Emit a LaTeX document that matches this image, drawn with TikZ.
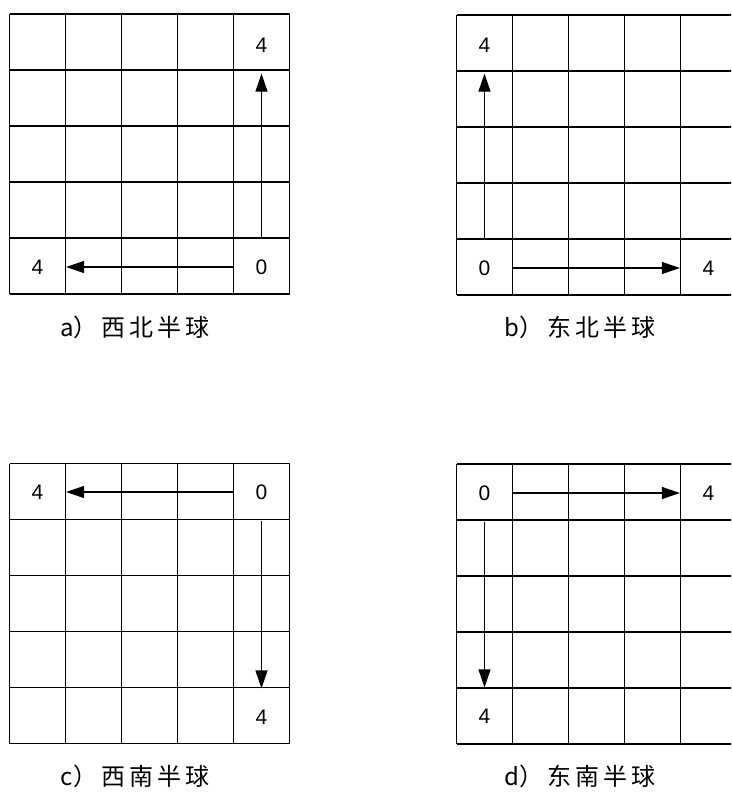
\documentclass[tikz,border=0pt]{standalone}
\usepackage{fontspec}
\setmainfont{Liberation Sans}
\newfontfamily\cjk{Noto Sans CJK SC}
\usetikzlibrary{arrows.meta,positioning}

\tikzset{
  cell/.style={minimum size=56pt,inner sep=0pt,font=\fontsize{21}{21}\selectfont},
  flow/.style={line width=1.2pt,-{Triangle[length=18pt,width=12pt]}},
  caption/.style={font=\cjk\fontsize{24}{24}\selectfont}
}
% 5x5 grid of 56pt cells, top left corner at (#1,#2)
\newcommand{\cellgrid}[2]{%
  \foreach \k in {0,...,5}{
    \draw (#1+56*\k,#2) -- (#1+56*\k,#2+280);
    \draw (#1,#2+56*\k) -- (#1+280,#2+56*\k);
  }
}
\newcommand{\cgap}{\hspace{4pt}}

\begin{document}
\begin{tikzpicture}[x=1pt,y=-1pt,line width=1.2pt]
  \useasboundingbox (0,0) rectangle (731,792);
  \clip (0,0) rectangle (731,792);
  \fill[white] (0,0) rectangle (731,792);

  % a) north-west
  \cellgrid{9.5}{14}
  \node[cell] (aN) at (261.5,45) {4};
  \node[cell] (aO) at (261.5,267) {0};
  \node[cell] (aW) at (37.5,267) {4};
  \draw[flow] (aO.north) -- (aN.south);
  \draw[flow] (aO.west) -- (aW.east);
  \node[caption] (capA) at (135,327) {a）\cgap 西\cgap 北\cgap 半\cgap 球};

  % b) north-east
  \cellgrid{456.5}{15}
  \node[cell] (bN) at (484.5,45) {4};
  \node[cell] (bO) at (484.5,268) {0};
  \node[cell] (bE) at (708.5,268) {4};
  \draw[flow] (bO.north) -- (bN.south);
  \draw[flow] (bO.east) -- (bE.west);
  \node[caption] (capB) at (580,327) {b）\cgap 东\cgap 北\cgap 半\cgap 球};

  % c) south-west
  \cellgrid{9.5}{463.5}
  \node[cell] (cO) at (261.5,492) {0};
  \node[cell] (cW) at (37.5,492) {4};
  \node[cell] (cS) at (261.5,717) {4};
  \draw[flow] (cO.west) -- (cW.east);
  \draw[flow] (cO.south) -- (cS.north);
  \node[caption] (capC) at (135,776) {c）\cgap 西\cgap 南\cgap 半\cgap 球};

  % d) south-east
  \cellgrid{456.5}{464}
  \node[cell] (dO) at (484.5,493) {0};
  \node[cell] (dE) at (708.5,493) {4};
  \node[cell] (dS) at (484.5,716) {4};
  \draw[flow] (dO.east) -- (dE.west);
  \draw[flow] (dO.south) -- (dS.north);
  \node[caption] (capD) at (580,776) {d）\cgap 东\cgap 南\cgap 半\cgap 球};
\end{tikzpicture}
\end{document}
